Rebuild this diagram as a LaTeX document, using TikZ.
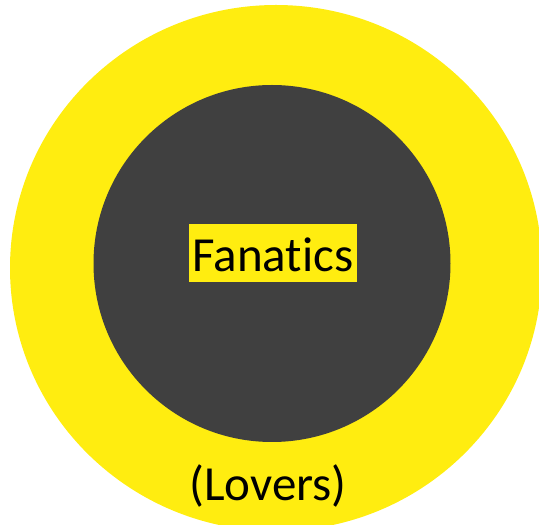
\documentclass[tikz,border=0pt]{standalone}
\usepackage{fontspec}
\setmainfont{Carlito}[Ligatures=NoCommon]
\definecolor{ylw}{RGB}{255,237,16}
\definecolor{drk}{RGB}{64,64,64}
\tikzset{
  lbl/.style={font=\fontsize{49}{52}\selectfont, text=black, inner sep=0pt},
  tagbox/.style={lbl, fill=ylw, minimum width=168pt, minimum height=58pt, text height=42pt, text depth=4pt}
}
\begin{document}
\begin{tikzpicture}[x=1pt,y=1pt]
\useasboundingbox (0,0) rectangle (539,525);
\fill[ylw] (276,257) ellipse [x radius=266, y radius=263];
\fill[drk] (272,261.5) circle [radius=178.5];
\node[tagbox] (fan) at (273,272) {Fanatics};
\node[lbl] (lov) at (268,39) {(Lovers)};
\end{tikzpicture}
\end{document}
